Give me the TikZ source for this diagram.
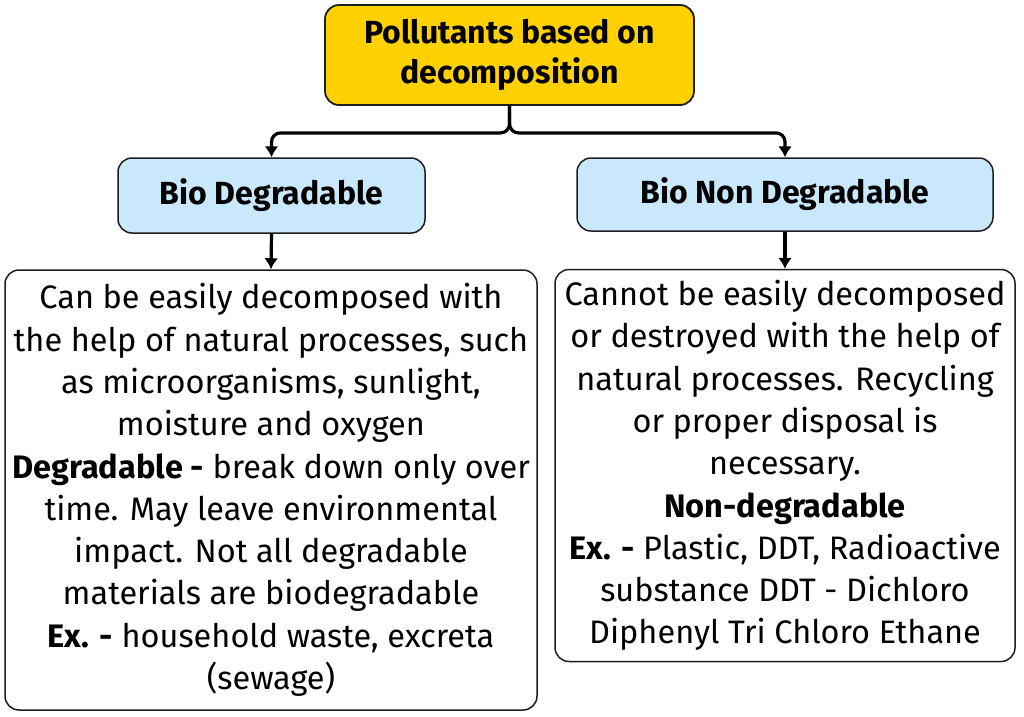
\documentclass[tikz,border=0pt]{standalone}
\usepackage{fontspec}
\setmainfont{Fira Sans}
\usetikzlibrary{arrows.meta}
\definecolor{topyellow}{HTML}{FFD100}
\definecolor{lightblue}{HTML}{C9E8FB}
\definecolor{edgegray}{HTML}{1E1E1E}
\tikzset{
  topbox/.style={draw=edgegray, line width=1.8pt, fill=topyellow, rounded corners=14pt, align=center,
     font=\fontsize{32}{40}\selectfont\bfseries, inner sep=0pt},
  catbox/.style={draw=edgegray, line width=1.5pt, fill=lightblue, rounded corners=14pt, align=center,
     font=\fontsize{32}{36}\selectfont\bfseries, inner sep=0pt},
  descbox/.style={draw=edgegray, line width=1.5pt, fill=white, rounded corners=14pt, align=center,
     font=\fontsize{32.5}{42.3}\selectfont, inner sep=0pt},
  conn/.style={draw=black, line width=3.2pt, -{Latex[length=11pt,width=14pt]}, rounded corners=9pt},
}
\begin{document}
\begin{tikzpicture}[x=1pt,y=-1pt]
\useasboundingbox[fill=white] (0,0) rectangle (1024,716);
\node[topbox, minimum width=369pt, minimum height=100pt] (top) at (509.5,55) {Pollutants based on\\decomposition};
\node[catbox, minimum width=307pt, minimum height=75pt] (bd) at (271.5,195.5) {Bio Degradable};
\node[catbox, minimum width=416pt, minimum height=73pt] (bnd) at (785,194.5) {Bio Non Degradable};
\node[descbox, minimum width=532pt, minimum height=440pt] (bdtext) at (271,490) {Can be easily decomposed with\\the help of natural processes, such\\as microorganisms, sunlight,\\moisture and oxygen\\\textbf{Degradable -} break down only over\\time. May leave environmental\\impact. Not all degradable\\materials are biodegradable\\\textbf{Ex. -} household waste, excreta\\(sewage)};
\node[descbox, minimum width=460pt, minimum height=392pt] (bndtext) at (785,465.5) {Cannot be easily decomposed\\or destroyed with the help of\\natural processes. Recycling\\or proper disposal is\\necessary.\\\textbf{Non-degradable}\\\textbf{Ex. -} Plastic, DDT, Radioactive\\substance DDT - Dichloro\\Diphenyl Tri Chloro Ethane};
\draw[conn] (top.south) -- ++(0,27) -| (bd.north);
\draw[conn] (top.south) -- ++(0,27) -| (bnd.north);
\draw[conn] (bd.south) -- (bdtext.north);
\draw[conn] (bnd.south) -- (bndtext.north);
\end{tikzpicture}
\end{document}
